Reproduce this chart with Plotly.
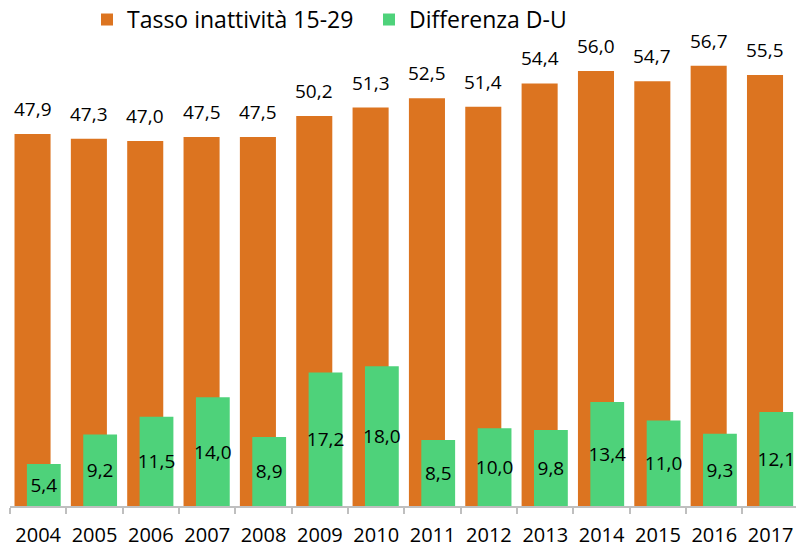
import plotly.graph_objects as go

years = ["2004", "2005", "2006", "2007", "2008", "2009", "2010",
         "2011", "2012", "2013", "2014", "2015", "2016", "2017"]
tasso = [47.9, 47.3, 47.0, 47.5, 47.5, 50.2, 51.3, 52.5, 51.4, 54.4, 56.0, 54.7, 56.7, 55.5]
diff = [5.4, 9.2, 11.5, 14.0, 8.9, 17.2, 18.0, 8.5, 10.0, 9.8, 13.4, 11.0, 9.3, 12.1]

name_tasso = "Tasso inattività 15-29"
name_diff = "Differenza D-U"

def fmt(v):
    return f"{v:.1f}".replace(".", ",")

FONT = "Open Sans"

fig = go.Figure()
fig.add_trace(go.Bar(
    x=years, y=tasso, name=name_tasso,
    width=0.64, offset=-0.42,
    marker=dict(color="#DC7420", line=dict(width=0)),
    cliponaxis=False,
))
fig.add_trace(go.Bar(
    x=years, y=diff, name=name_diff,
    width=0.60, offset=-0.20,
    marker=dict(color="#4ED27A", line=dict(width=0)),
    text=[fmt(v) for v in diff], textposition="inside",
    insidetextanchor="middle", textangle=0,
    textfont=dict(family=FONT, size=19, color="#000000"),
    cliponaxis=False,
))

# value labels above the orange bars (x given as category index)
for i, v in enumerate(tasso):
    fig.add_annotation(
        x=i, y=v, xref="x", yref="y", text=fmt(v), showarrow=False,
        xanchor="center", yanchor="bottom", xshift=-5.5, yshift=10,
        font=dict(family=FONT, size=19, color="#000000"),
    )

fig.update_layout(
    width=796, height=544,
    barmode="overlay",
    margin=dict(l=10, r=0, t=40, b=38, autoexpand=False),
    paper_bgcolor="white", plot_bgcolor="white",
    font=dict(family=FONT, size=20, color="#000000"),
    uniformtext=dict(minsize=19, mode="show"),
    legend=dict(
        orientation="h", xref="container", yref="paper",
        x=0.1093, y=1.09, xanchor="left", yanchor="top",
        font=dict(family=FONT, size=23, color="#000000"),
        itemwidth=30, tracegroupgap=0,
        entrywidth=237, entrywidthmode="pixels",
        bgcolor="rgba(0,0,0,0)",
    ),
    xaxis=dict(
        type="category", range=[-0.5, 13.45], automargin=False,
        showline=True, linecolor="#BFBFBF", linewidth=1.5,
        ticks="outside", tickson="boundaries", ticklen=6,
        tickcolor="#BFBFBF", tickwidth=1.5,
        tickfont=dict(family=FONT, size=20, color="#000000"),
        ticklabelstandoff=10,
        showgrid=False, zeroline=False,
    ),
    yaxis=dict(
        range=[0, 60], showticklabels=False, showline=False, ticks="",
        showgrid=False, zeroline=False, automargin=False,
    ),
)

fig.write_html(
    "out.html",
    config={"displayModeBar": False},
    post_script="document.body.style.margin='0';document.body.style.overflow='hidden';",
)
